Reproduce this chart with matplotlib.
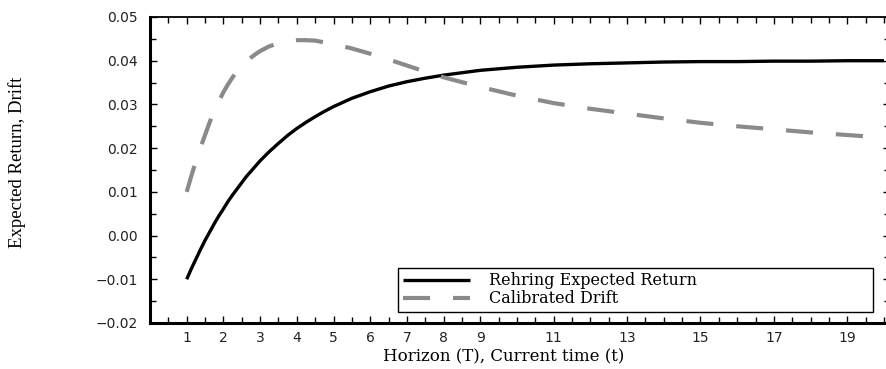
import numpy as np
import matplotlib
matplotlib.use("Agg")
import matplotlib.pyplot as plt
from matplotlib.ticker import MultipleLocator, FixedLocator

# horizon grid and the two curves
horizon = [1, 1.125, 1.25, 1.375, 1.5, 1.625, 1.75, 1.875, 2, 2.125, 2.25, 2.375,
           2.5, 2.625, 2.75, 2.875, 3, 3.25, 3.5, 3.75, 4, 4.25, 4.5, 4.75, 5,
           5.5, 6, 6.5, 7, 7.5, 8, 9, 10, 11, 12, 13, 14, 15, 16, 17, 18, 19, 20]
rehring = [-0.0100, -0.0076, -0.0054, -0.0032, -0.0011, 0.0008, 0.0027, 0.0045,
           0.0061, 0.0078, 0.0093, 0.0107, 0.0121, 0.0135, 0.0147, 0.0159,
           0.0171, 0.0192, 0.0211, 0.0229, 0.0245, 0.0259, 0.0272, 0.0284,
           0.0295, 0.0314, 0.0329, 0.0342, 0.0352, 0.0360, 0.0367, 0.0378,
           0.0385, 0.0390, 0.0393, 0.0395, 0.0397, 0.0398, 0.0398, 0.0399,
           0.0399, 0.0400, 0.0400]
drift = [0.0100, 0.0136, 0.0170, 0.0201, 0.0230, 0.0259, 0.0285, 0.0307,
         0.0328, 0.0346, 0.0362, 0.0376, 0.0388, 0.0398, 0.0407, 0.0415,
         0.0422, 0.0433, 0.0440, 0.0445, 0.0447, 0.0447, 0.0446, 0.0442,
         0.0438, 0.0428, 0.0416, 0.0403, 0.0389, 0.0375, 0.0362, 0.0340,
         0.0320, 0.0303, 0.0290, 0.0279, 0.0268, 0.0258, 0.0250, 0.0243,
         0.0236, 0.0230, 0.0224]

xtick_pos = [1, 2, 3, 4, 5, 6, 7, 8, 9, 11, 13, 15, 17, 19]
ytick_pos = [-0.02, -0.01, 0.00, 0.01, 0.02, 0.03, 0.04, 0.05]

fig = plt.figure(figsize=(8.86, 3.69), dpi=100)
ax = fig.add_axes([150/886, 46/369, 740/886, 306/369])

ax.plot(horizon, rehring, color="black", lw=2.4, label="Rehring Expected Return",
        solid_capstyle="butt")
ax.plot(horizon, drift, color="#8a8a8a", lw=3.0, dashes=(6.5, 5.5),
        label="Calibrated Drift")

ax.set_xlim(0, 740 / 36.7)
ax.set_ylim(-0.02, 0.05)

ax.xaxis.set_major_locator(FixedLocator(xtick_pos))
ax.xaxis.set_minor_locator(MultipleLocator(0.5))
ax.set_xticklabels([str(v) for v in xtick_pos])
ax.yaxis.set_major_locator(FixedLocator(ytick_pos))
ax.yaxis.set_minor_locator(MultipleLocator(0.005))
ax.set_yticklabels([("%.2f" % v).replace("-", "\u2212") for v in ytick_pos])

ax.tick_params(which="both", direction="in", top=True, right=True,
               labelsize=10, labelcolor="#222222", width=1.0)
ax.tick_params(which="major", length=5)
ax.tick_params(which="minor", length=4)
ax.tick_params(axis="x", pad=6)
ax.tick_params(axis="y", pad=9)

for side in ["left", "bottom"]:
    ax.spines[side].set_linewidth(2.2)
for side in ["top", "right"]:
    ax.spines[side].set_linewidth(1.3)

ax.set_xlabel("Horizon (T), Current time (t)", family="DejaVu Serif", fontsize=12)
ax.xaxis.set_label_coords(0.478, -0.111)
ax.xaxis.label.set_va("center")
ax.set_ylabel("Expected Return, Drift", family="Liberation Serif", fontsize=13.5)
ax.yaxis.set_label_coords(-0.179, 0.526)
ax.yaxis.label.set_va("center")

leg = ax.legend(loc="lower left", bbox_to_anchor=(0.335, 0.036, 0.642, 0.154),
                mode="expand", borderaxespad=0, fancybox=False, framealpha=1,
                edgecolor="black", prop={"family": "DejaVu Serif", "size": 11.5},
                handlelength=4.2, labelspacing=0.05, borderpad=0.3,
                handletextpad=1.2)
leg.get_frame().set_linewidth(1.0)

fig.savefig("out.png", dpi=100)
